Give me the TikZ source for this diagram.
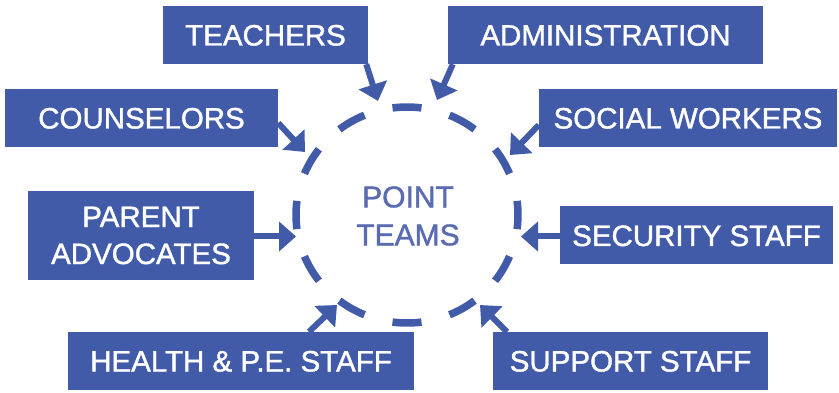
\documentclass[tikz,border=0pt]{standalone}
\usepackage{fontspec}
\setmainfont{Liberation Sans}
\newfontfamily\semibf[FakeBold=1.3]{Liberation Sans}
\usetikzlibrary{arrows.meta}
\definecolor{boxblue}{RGB}{65,91,168}
\definecolor{textblue}{RGB}{90,107,178}
\tikzset{
  box/.style={fill=boxblue, text=white, inner sep=0pt, minimum height=58pt,
    font=\semibf\fontsize{29.5}{37}\selectfont, text height=21pt, text depth=0pt},
  twoline/.style={fill=boxblue, text=white, inner sep=0pt, minimum height=89pt,
    font=\semibf\fontsize{29.5}{37}\selectfont, align=center},
  arr/.style={draw=boxblue, line width=6pt, -{Triangle[length=17pt,width=29pt]}},
  ring/.style={draw=boxblue, line width=7.5pt},
  centre/.style={text=textblue, font=\semibf\fontsize{30}{38}\selectfont, align=center}
}
\begin{document}
\begin{tikzpicture}[x=1pt,y=-1pt]
\useasboundingbox (0,0) rectangle (839,393);
% dashed ring
\coordinate (c) at (407,215);
\foreach \a in {0,30,...,330}{
  \draw[ring] (c) ++(\a-7.5:111 and 108) arc[start angle=\a-7.5, end angle=\a+7.5, x radius=111, y radius=108];
}
\node[centre] (pt) at (408,216) {POINT\\TEAMS};
% boxes
\node[box, minimum width=205pt] (teach) at (265.5,35) {TEACHERS};
\node[box, minimum width=315pt] (admin) at (605.5,35) {ADMINISTRATION};
\node[box, minimum width=273pt] (couns) at (141.5,118) {COUNSELORS};
\node[box, minimum width=298pt] (social) at (688,118) {SOCIAL WORKERS};
\node[twoline, minimum width=226pt] (parent) at (141,235.5) {PARENT\\ADVOCATES};
\node[box, minimum width=273pt] (secur) at (696.5,235.5) {SECURITY STAFF};
\node[box, minimum width=346pt] (health) at (241,361) {HEALTH \& P.E. STAFF};
\node[box, minimum width=275pt] (support) at (630.5,361) {SUPPORT STAFF};
% arrow tips
\coordinate (tTeach) at (378,101);
\coordinate (tAdmin) at (437,100);
\coordinate (tCouns) at (305,152);
\coordinate (tSocial) at (510,155);
\coordinate (tParent) at (296,236.5);
\coordinate (tSecur) at (521,236.5);
\coordinate (tHealth) at (337,305);
\coordinate (tSupport) at (480,305);
% arrows
\draw[arr] ([xshift=-2pt]teach.south east) -- (tTeach);
\draw[arr] ([xshift=5pt]admin.south west) -- (tAdmin);
\draw[arr] ([yshift=-5pt]couns.east) -- (tCouns);
\draw[arr] ([yshift=-7pt]social.west) -- (tSocial);
\draw[arr] ([yshift=-1pt]parent.east) -- (tParent);
\draw[arr] ([yshift=-1pt]secur.west) -- (tSecur);
\draw[arr] ([xshift=68pt]health.north) -- (tHealth);
\draw[arr] ([xshift=-123.5pt]support.north) -- (tSupport);
\end{tikzpicture}
\end{document}
